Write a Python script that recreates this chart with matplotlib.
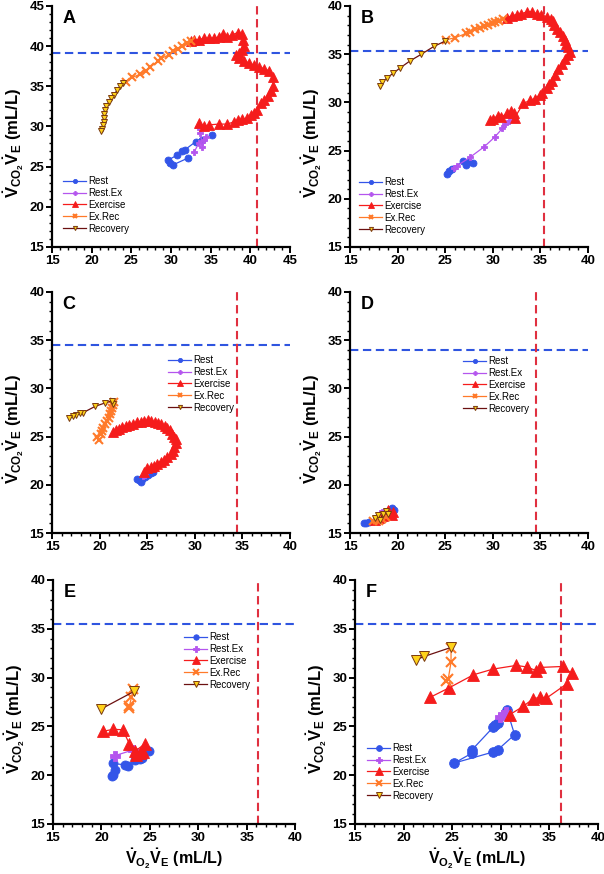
import numpy as np
import matplotlib as mpl
import matplotlib.pyplot as plt
from matplotlib.ticker import MultipleLocator

mpl.use('Agg')
plt.rcParams.update({
    'font.family': 'Liberation Sans',
    'font.weight': 'bold',
    'mathtext.fontset': 'custom',
    'mathtext.rm': 'Liberation Sans:bold',
    'mathtext.it': 'Liberation Sans:bold',
    'mathtext.bf': 'Liberation Sans:bold',
})

phases = ["Rest", "Rest.Ex", "Exercise", "Ex.Rec", "Recovery"]

# ---- panel A ----
a_rest = [(35.2, 29.0), (33.95, 28.3), (33.1, 28.1), (31.75, 27.1), (31.4, 27.0), (30.7, 26.4),
          (29.6, 25.8), (29.9, 25.4), (30.2, 25.2), (32.2, 26.1)]
a_restex = [(32.9, 26.8), (33.5, 27.9), (34.1, 28.3), (34.4, 28.75), (33.95, 27.5), (33.7, 29.2), (33.4, 29.9)]
a_ex = [(33.5, 30.4), (34.2, 30.0), (34.8, 30.2), (36.0, 30.3), (37.1, 30.3), (38.0, 30.6), (38.4, 30.8),
        (39.0, 30.9), (39.6, 31.0), (40.05, 31.4), (40.5, 31.7), (40.8, 32.1), (41.3, 32.9), (41.7, 33.3),
        (42.2, 33.75), (42.6, 34.4), (42.9, 35.0), (42.8, 36.1), (42.4, 36.9), (41.7, 37.2), (41.1, 37.4),
        (40.5, 37.6), (39.8, 37.9), (39.2, 38.2), (38.6, 38.5), (38.2, 38.9), (38.6, 39.2), (39.0, 39.5),
        (39.2, 40.0), (39.1, 40.8), (38.9, 41.5), (38.4, 41.7), (37.7, 41.4), (37.1, 41.1), (36.6, 41.5),
        (36.05, 41.1), (35.4, 41.0), (34.8, 40.96), (34.2, 41.0), (33.5, 40.8), (32.9, 40.8), (32.5, 40.6)]
a_exrec = [(32.5, 40.7), (32.05, 40.4), (31.4, 40.0), (30.9, 39.7), (30.3, 39.4), (29.7, 38.9), (28.8, 38.5),
           (28.3, 38.1), (27.4, 37.4), (26.8, 36.9), (26.1, 36.5), (25.1, 36.1), (24.3, 35.6)]
a_rec = [(23.97, 35.4), (23.6, 35.0), (23.2, 34.5), (22.8, 33.96), (22.45, 33.5), (22.16, 33.04), (21.86, 32.5),
         (21.7, 32.0), (21.6, 31.5), (21.5, 31.05), (21.5, 30.6), (21.4, 30.2), (21.36, 29.7), (21.2, 29.4)]

# ---- panel B ----
b_rest = [(25.2, 22.6), (25.4, 22.9), (25.7, 23.1), (26.9, 23.9), (27.2, 23.5), (27.5, 23.8), (27.9, 23.7)]
b_restex = [(25.9, 23.2), (26.2, 23.4), (27.6, 24.3), (29.1, 25.4), (30.2, 26.4), (31.0, 27.3), (31.3, 27.8),
            (31.7, 28.1), (32.0, 28.5)]
b_ex = [(29.7, 28.15), (30.05, 28.3), (30.5, 28.6), (30.9, 28.5), (31.5, 28.85), (31.9, 29.1), (32.2, 28.85),
        (32.3, 28.4), (33.2, 29.9), (33.9, 30.2), (34.4, 30.4), (35.0, 30.8), (35.2, 31.0), (35.7, 31.5),
        (35.95, 31.9), (36.2, 32.2), (36.55, 32.8), (36.9, 33.5), (37.25, 34.0), (37.6, 34.5), (37.95, 34.9),
        (38.1, 35.2), (37.95, 35.7), (37.7, 36.1), (37.6, 36.5), (37.4, 36.9), (37.1, 37.3), (36.7, 37.6),
        (36.4, 38.0), (36.3, 38.4), (36.1, 38.7), (35.7, 38.9), (35.1, 39.05), (34.6, 39.2), (34.1, 39.4),
        (33.6, 39.4), (33.0, 39.2), (32.5, 39.1), (32.0, 39.0), (31.5, 38.8)]
b_exrec = [(31.1, 38.6), (30.6, 38.4), (30.2, 38.3), (29.9, 38.2), (29.5, 38.0), (29.1, 37.9), (28.65, 37.7),
           (28.1, 37.6), (27.6, 37.3), (27.2, 37.15), (26.0, 36.7), (25.1, 36.5)]
b_rec = [(24.97, 36.35), (23.8, 35.8), (22.5, 35.0), (21.3, 34.3), (20.3, 33.6), (19.5, 33.0), (18.9, 32.55),
         (18.4, 32.1), (18.1, 31.7)]

# ---- panel C ----
c_rest = [(23.95, 20.6), (24.1, 20.5), (24.3, 20.3), (24.5, 20.6), (24.8, 20.8), (25.1, 20.99), (25.35, 21.2),
          (25.6, 21.3)]
c_restex = [(24.6, 20.9), (24.8, 21.0)]
c_ex = [(24.65, 21.3), (25.0, 21.7), (25.35, 21.8), (25.7, 21.9), (26.05, 22.2), (26.4, 22.4), (26.75, 22.55),
        (27.1, 22.9), (27.45, 23.2), (27.7, 23.5), (27.84, 23.93), (27.98, 24.3), (27.98, 24.7), (27.84, 25.0),
        (27.63, 25.3), (27.4, 25.66), (27.1, 25.9), (26.86, 26.1), (26.5, 26.3), (26.16, 26.4), (25.8, 26.5),
        (25.45, 26.6), (25.1, 26.7), (24.68, 26.6), (24.3, 26.5), (23.9, 26.5), (23.5, 26.35), (23.14, 26.2),
        (22.8, 26.1), (22.4, 26.0), (22.09, 25.8), (21.7, 25.66), (21.4, 25.5)]
c_exrec = [(19.9, 24.6), (19.7, 24.97), (20.1, 25.25), (20.3, 25.6), (20.4, 25.9), (20.6, 26.3), (20.8, 26.6),
           (20.96, 26.97), (21.07, 27.3), (21.2, 27.7), (21.3, 28.0), (21.4, 28.25), (21.5, 28.6)]
c_rec = [(21.4, 28.36), (21.3, 28.7), (20.6, 28.5), (19.56, 28.15), (18.3, 27.5), (17.9, 27.4), (17.5, 27.2),
         (17.2, 27.1), (16.8, 26.97)]

# ---- panel D ----
d_rest = [(16.5, 16.0), (17.0, 16.1), (16.7, 16.0), (19.45, 17.56), (19.66, 17.4), (19.3, 17.5)]
d_restex = [(18.2, 17.1), (18.4, 17.2), (18.8, 17.3)]
d_ex = [(17.6, 16.3), (18.0, 16.6), (18.5, 16.8), (19.0, 17.4), (19.4, 16.9), (19.5, 17.2)]
d_exrec = [(17.45, 16.2), (17.8, 16.4), (18.0, 16.2), (18.4, 16.5), (18.8, 16.7)]
d_rec = [(17.6, 16.6), (17.98, 16.9), (18.15, 16.35), (18.5, 17.0), (18.75, 17.3), (18.96, 16.97)]

# ---- panel E ----
e_rest = [(21.14, 19.9), (21.2, 20.05), (21.4, 20.56), (21.2, 21.2), (22.4, 21.07), (22.76, 20.97),
          (23.45, 21.6), (23.97, 21.65), (24.24, 21.76), (24.9, 22.44)]
e_restex = [(21.4, 22.0), (23.3, 22.6)]
e_ex = [(23.6, 22.1), (23.97, 22.27), (24.3, 22.34), (24.48, 23.2), (23.45, 22.44), (22.9, 23.2),
        (22.2, 24.66), (21.2, 24.7), (20.2, 24.5)]
e_exrec = [(22.86, 26.9), (22.9, 27.1), (23.1, 27.97), (23.3, 28.8)]
e_rec = [(23.4, 28.6), (20.0, 26.8)]

# ---- panel F ----
f_rest = [(29.36, 25.1), (29.7, 25.34), (30.63, 26.71), (31.42, 24.15), (29.7, 22.61), (29.19, 22.37),
          (25.23, 21.25), (27.05, 22.27), (27.05, 22.61), (29.2, 24.9)]
f_restex = [(29.9, 26.0), (30.2, 26.2), (30.5, 26.5)]
f_ex = [(30.91, 26.2), (32.3, 27.05), (33.32, 27.83), (34.0, 27.97), (34.7, 27.9), (36.76, 29.34), (37.28, 30.46),
        (36.35, 31.14), (34.01, 31.04), (33.66, 30.7), (32.73, 31.08), (31.6, 31.25), (29.19, 30.87),
        (27.19, 30.29), (24.64, 28.93), (22.71, 27.97)]
f_exrec = [(24.37, 29.61), (24.6, 29.9), (24.88, 31.59), (24.88, 33.0)]
f_rec = [(24.88, 33.09), (22.13, 32.17), (21.27, 31.83)]

# threshold lines (horizontal, vertical)
a_thr = (39.2, 40.8)
b_thr = (35.3, 35.4)
c_thr = (34.55, 34.47)
d_thr = (34.0, 34.55)
e_thr = (35.45, 36.15)
f_thr = (35.45, 36.2)

W, H = 604, 874

styles = {
    "Rest": dict(color="#3355e8", marker="o", mfc="#3355e8", mec="#3355e8", scale=1.0, mew=0.6),
    "Rest.Ex": dict(color="#b455ee", marker="P", mfc="#b455ee", mec="#b455ee", scale=1.0, mew=0.6),
    "Exercise": dict(color="#f51c1c", marker="^", mfc="#f51c1c", mec="#f51c1c", scale=1.3, mew=0.6),
    "Ex.Rec": dict(color="#ff7a2a", marker="x", mfc="#ff7a2a", mec="#ff7a2a", scale=1.1, mew=1.5),
    "Recovery": dict(color="#6b1010", marker="v", mfc="#ffd21a", mec="#7a3a10", scale=1.0, mew=0.7),
}

ylab = r'$\dot{V}_{CO_2}\dot{V}_E$ (mL/L)'
xlab = r'$\dot{V}_{O_2}\dot{V}_E$ (mL/L)'


def px_axes(left, top, right, bottom):
    return [left / W, 1 - bottom / H, (right - left) / W, (bottom - top) / H]


def draw_panel(fig, rect, letter, series, thr, lim, leg, ms, xlabel=False):
    ax = fig.add_axes(px_axes(*rect))
    for name, pts in zip(phases, series):
        pts = np.array(pts)
        st = styles[name]
        ax.plot(pts[:, 0], pts[:, 1], lw=0.9, color=st["color"], marker=st["marker"],
                markerfacecolor=st["mfc"], markeredgecolor=st["mec"], markersize=ms * st["scale"],
                markeredgewidth=st["mew"], label=name, zorder=3)
    ax.axhline(thr[0], color="#2f55e0", lw=1.5, dashes=(4, 2.2), zorder=2)
    ax.axvline(thr[1], color="#e03040", lw=1.5, dashes=(4, 2.2), zorder=2)
    ax.set_xlim(lim)
    ax.set_ylim(lim)
    ax.xaxis.set_major_locator(MultipleLocator(5))
    ax.yaxis.set_major_locator(MultipleLocator(5))
    ax.xaxis.set_minor_locator(MultipleLocator(1))
    ax.yaxis.set_minor_locator(MultipleLocator(1))
    for s in ["top", "right"]:
        ax.spines[s].set_visible(False)
    for s in ["left", "bottom"]:
        ax.spines[s].set_linewidth(1.6)
    ax.tick_params(which="major", direction="out", length=4, width=1.4, labelsize=9.5, pad=1.5)
    ax.tick_params(which="minor", direction="out", length=2.2, width=1.0)
    for t in ax.get_xticklabels() + ax.get_yticklabels():
        t.set_fontweight("bold")
    ax.set_ylabel(ylab, fontsize=12, fontweight="bold")
    ax.yaxis.set_label_coords(-0.108, 0.43)
    if xlabel:
        ax.set_xlabel(xlab, fontsize=11.5, fontweight="bold", labelpad=2)
    ax.text(0.045, 0.985, letter, transform=ax.transAxes, fontsize=13, fontweight="bold",
            va="top", ha="left")
    lg = ax.legend(loc="upper left", bbox_to_anchor=(leg[0] / W, 1 - leg[1] / H),
                   bbox_transform=fig.transFigure, frameon=False, fontsize=7,
                   handlelength=2.4, handletextpad=0.15, labelspacing=0.2,
                   borderpad=0, borderaxespad=0, markerscale=0.6)
    for t in lg.get_texts():
        t.set_fontweight("normal")
    return ax


fig = plt.figure(figsize=(W / 100, H / 100), dpi=100)

draw_panel(fig, (52, 6, 290, 247), "A", [a_rest, a_restex, a_ex, a_exrec, a_rec], a_thr, (15, 45), (63, 176), 5)
draw_panel(fig, (350, 6, 588, 247), "B", [b_rest, b_restex, b_ex, b_exrec, b_rec], b_thr, (15, 40), (359, 177), 5)
draw_panel(fig, (52, 292, 290, 533), "C", [c_rest, c_restex, c_ex, c_exrec, c_rec], c_thr, (15, 40), (168, 355), 5)
draw_panel(fig, (350, 292, 588, 533), "D", [d_rest, d_restex, d_ex, d_exrec, d_rec], d_thr, (15, 40), (463, 356), 5)
draw_panel(fig, (53, 580, 295, 824), "E", [e_rest, e_restex, e_ex, e_exrec, e_rec], e_thr, (15, 40), (184, 632), 6.5, xlabel=True)
draw_panel(fig, (355, 580, 598, 824), "F", [f_rest, f_restex, f_ex, f_exrec, f_rec], f_thr, (15, 40), (367, 743), 7, xlabel=True)

fig.savefig("out.png", dpi=100)
